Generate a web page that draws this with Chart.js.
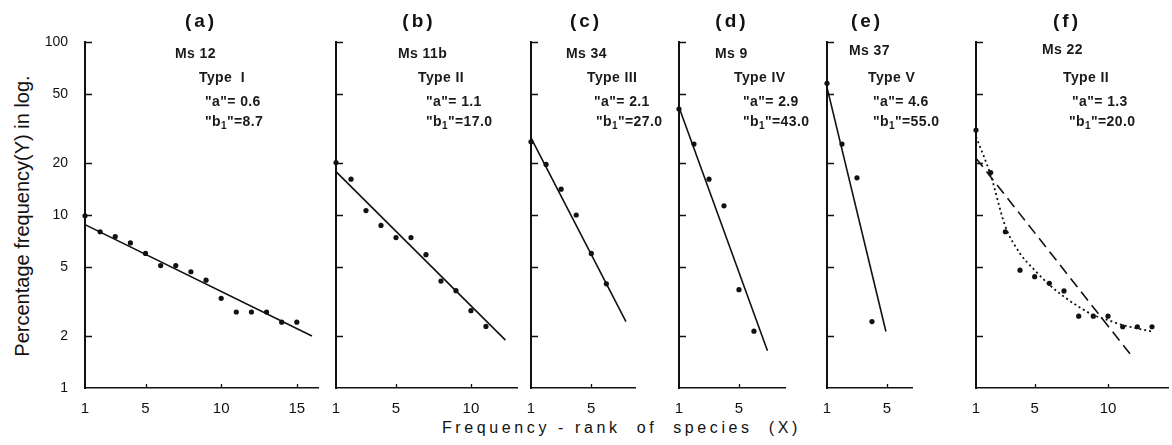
<!DOCTYPE html>
<html>
<head>
<meta charset="utf-8">
<title>Frequency-rank of species</title>
<script src="https://cdn.jsdelivr.net/npm/chart.js"></script>
<style>
  body { margin: 0; background: #fff; width: 1172px; height: 445px; position: relative; overflow: hidden;
         font-family: "Liberation Sans", Arial, sans-serif; color: #111; }
  canvas { position: absolute; top: 30px; }
  .txt { position: absolute; white-space: pre; font-size: 14px; line-height: 14px; font-weight: bold; color: #1a1a1a; letter-spacing: 0.4px; }
  .tag { position: absolute; font-size: 19px; font-weight: bold; line-height: 19px; letter-spacing: 3px; transform: translateX(-50%); }
  .txt sub { font-size: 10px; vertical-align: -3px; line-height: 0; }
  #ytitle { position: absolute; left: 22px; top: 216px; font-size: 20px; white-space: nowrap;
            transform: translate(-50%, -50%) rotate(-90deg); }
  #xtitle { position: absolute; left: 442px; top: 419px; font-size: 16px; letter-spacing: 3.6px; white-space: pre; }
</style>
</head>
<body>
<div id="ytitle">Percentage frequency(Y) in log.</div>
<div id="xtitle">Frequency - rank  of  species  (X)</div>

<script>
// labels
const panelTags = ['(a)', '(b)', '(c)', '(d)', '(e)', '(f)'];
const sampleNames = ['Ms 12', 'Ms 11b', 'Ms 34', 'Ms 9', 'Ms 37', 'Ms 22'];
const typeNames = ['Type  I', 'Type II', 'Type III', 'Type IV', 'Type V', 'Type II'];
const aValues = ['0.6', '1.1', '2.1', '2.9', '4.6', '1.3'];
const b1Values = ['8.7', '17.0', '27.0', '43.0', '55.0', '20.0'];

const yTicks = [1, 2, 5, 10, 20, 50, 100];

// (a) Ms 12
const rankA = [1, 2, 3, 4, 5, 6, 7, 8, 9, 10, 11, 12, 13, 14, 15];
const freqA = [9.9, 8.0, 7.5, 6.9, 6.0, 5.1, 5.1, 4.7, 4.2, 3.3, 2.75, 2.75, 2.75, 2.4, 2.4];
const fitRankA = [1, 16];
const fitFreqA = [8.8, 2.0];
const xTicksA = [1, 5, 10, 15];

// (b) Ms 11b
const rankB = [1, 2, 3, 4, 5, 6, 7, 8, 9, 10, 11];
const freqB = [20.1, 16.1, 10.6, 8.7, 7.4, 7.4, 5.9, 4.15, 3.65, 2.8, 2.27];
const fitRankB = [1, 12.3];
const fitFreqB = [17.8, 1.89];
const xTicksB = [1, 5, 10];

// (c) Ms 34
const rankC = [1, 2, 3, 4, 5, 6];
const freqC = [26.5, 19.6, 14.1, 10.0, 6.0, 4.0];
const fitRankC = [1, 7.3];
const fitFreqC = [27.9, 2.42];
const xTicksC = [1, 5];

// (d) Ms 9
const rankD = [1, 2, 3, 4, 5, 6];
const freqD = [41.0, 25.7, 16.1, 11.3, 3.7, 2.13];
const fitRankD = [1, 6.9];
const fitFreqD = [42.0, 1.64];
const xTicksD = [1, 5];

// (e) Ms 37
const rankE = [1, 2, 3, 4];
const freqE = [57.7, 25.7, 16.4, 2.42];
const fitRankE = [1, 4.93];
const fitFreqE = [54.7, 2.12];
const xTicksE = [1, 5];

// (f) Ms 22
const rankF = [1, 2, 3, 4, 5, 6, 7, 8, 9, 10, 11, 12, 13];
const freqF = [31.0, 17.6, 8.0, 4.8, 4.4, 4.03, 3.64, 2.6, 2.6, 2.6, 2.26, 2.26, 2.26];
const fitRankF = [1, 11.75];
const fitFreqF = [21.3, 1.48];
const curveRankF = [1, 2, 3, 4, 5, 6, 7, 8, 9, 10, 11, 12, 13];
const curveFreqF = [28.4, 17.0, 8.6, 6.0, 4.8, 3.95, 3.37, 2.95, 2.64, 2.47, 2.31, 2.21, 2.12];
const xTicksF = [1, 5, 10];

// panel geometry (page px): y-axis position, plot width, x max, label anchors
const layoutBoxes = [
  { axis: 85,  yw: 85, plotW: 233, xMax: 16.4, padR: 6, tagX: 201,  msX: 175,  typeX: 199,  aX: 205,  bX: 205,  msY: 46 },
  { axis: 336, yw: 12, plotW: 181, xMax: 13.07, padR: 6, tagX: 419, msX: 398,  typeX: 418,  aX: 426,  bX: 426,  msY: 46 },
  { axis: 531, yw: 12, plotW: 104, xMax: 7.9,  padR: 6, tagX: 586,  msX: 566,  typeX: 587,  aX: 594,  bX: 596,  msY: 46 },
  { axis: 679, yw: 12, plotW: 106, xMax: 8.07, padR: 6, tagX: 732,  msX: 715,  typeX: 734,  aX: 743,  bX: 743,  msY: 46 },
  { axis: 827, yw: 12, plotW: 85,  xMax: 6.67, padR: 6, tagX: 867,  msX: 849,  typeX: 868,  aX: 873,  bX: 873,  msY: 43 },
  { axis: 976, yw: 12, plotW: 195, xMax: 14.09, padR: 1, tagX: 1067, msX: 1042, typeX: 1063, aX: 1072, bX: 1069, msY: 42 }
];

const toXY = (xs, ys) => xs.map((x, i) => ({ x: x, y: ys[i] }));

function pointSet(xs, ys) {
  return { data: toXY(xs, ys), showLine: false, pointRadius: 2.6, pointBackgroundColor: '#111',
           pointBorderWidth: 0, clip: false };
}
function lineSet(xs, ys, dash, extra) {
  return Object.assign({ data: toXY(xs, ys), showLine: true, pointRadius: 0, borderColor: '#111',
           borderWidth: 1.6, borderDash: dash, clip: false }, extra || {});
}

// tick marks point into the plot
const inwardTicks = {
  id: 'inwardTicks',
  afterDraw(chart) {
    const { ctx, chartArea: a, scales: { x, y } } = chart;
    ctx.save();
    ctx.strokeStyle = '#111';
    ctx.lineWidth = 1.3;
    ctx.beginPath();
    yTicks.forEach(v => {
      if (v === 1) return;
      const py = Math.round(y.getPixelForValue(v)) + 0.5;
      ctx.moveTo(a.left, py);
      ctx.lineTo(a.left + 7, py);
    });
    x.ticks.forEach(t => {
      if (t.value === 1) return;
      const px = Math.round(x.getPixelForValue(t.value)) + 0.5;
      ctx.moveTo(px, a.bottom);
      ctx.lineTo(px, a.bottom - 4);
    });
    ctx.stroke();
    ctx.restore();
  }
};

function makePanel(i, datasets, xTicks) {
  const box = layoutBoxes[i];
  const canvas = document.createElement('canvas');
  const w = box.yw + box.plotW + box.padR;
  canvas.width = w;
  canvas.height = 400;
  canvas.style.left = (box.axis - box.yw) + 'px';
  canvas.style.width = w + 'px';
  canvas.style.height = '400px';
  document.body.appendChild(canvas);

  new Chart(canvas, {
    type: 'scatter',
    data: { datasets: datasets },
    options: {
      responsive: false,
      animation: false,
      devicePixelRatio: 1,
      layout: { padding: { top: 12, right: box.padR, left: 0, bottom: 0 } },
      plugins: { legend: { display: false }, tooltip: { enabled: false } },
      elements: { line: { tension: 0 } },
      scales: {
        x: {
          type: 'linear', min: 1, max: box.xMax,
          afterBuildTicks: s => { s.ticks = xTicks.map(v => ({ value: v })); },
          afterFit: s => { s.height = 42; s.paddingLeft = 0; s.paddingRight = 0; },
          grid: { display: false, drawTicks: false },
          border: { color: '#111', width: 1.5 },
          ticks: { padding: 12, color: '#111', autoSkip: false, maxRotation: 0,
                   font: { family: '"Liberation Sans", Arial, sans-serif', size: 15 } }
        },
        y: {
          type: 'logarithmic', min: 1, max: 100,
          afterBuildTicks: s => { s.ticks = yTicks.map(v => ({ value: v })); },
          afterFit: s => { s.width = box.yw; s.paddingTop = 0; s.paddingBottom = 0; },
          grid: { display: false, drawTicks: false },
          border: { color: '#111', width: 2 },
          ticks: { display: i === 0, padding: 17, color: '#111', autoSkip: false,
                   callback: v => String(v),
                   font: { family: '"Liberation Sans", Arial, sans-serif', size: 14 } }
        }
      }
    },
    plugins: [inwardTicks]
  });

  // panel captions
  const add = (cls, html, left, top) => {
    const d = document.createElement('div');
    d.className = cls;
    d.innerHTML = html;
    d.style.left = left + 'px';
    d.style.top = top + 'px';
    document.body.appendChild(d);
  };
  add('tag', panelTags[i], box.tagX, 11);
  add('txt', sampleNames[i], box.msX, box.msY);
  add('txt', typeNames[i], box.typeX, 70);
  add('txt', '"a"= ' + aValues[i], box.aX, 94);
  add('txt', '"b<sub>1</sub>"=' + b1Values[i], box.bX, 114);
}

makePanel(0, [lineSet(fitRankA, fitFreqA, []), pointSet(rankA, freqA)], xTicksA);
makePanel(1, [lineSet(fitRankB, fitFreqB, []), pointSet(rankB, freqB)], xTicksB);
makePanel(2, [lineSet(fitRankC, fitFreqC, []), pointSet(rankC, freqC)], xTicksC);
makePanel(3, [lineSet(fitRankD, fitFreqD, []), pointSet(rankD, freqD)], xTicksD);
makePanel(4, [lineSet(fitRankE, fitFreqE, []), pointSet(rankE, freqE)], xTicksE);
makePanel(5, [
  lineSet(fitRankF, fitFreqF, [11, 6]),
  lineSet(curveRankF, curveFreqF, [2, 3], { cubicInterpolationMode: 'monotone', borderWidth: 1.8 }),
  pointSet(rankF, freqF)
], xTicksF);
</script>
</body>
</html>
